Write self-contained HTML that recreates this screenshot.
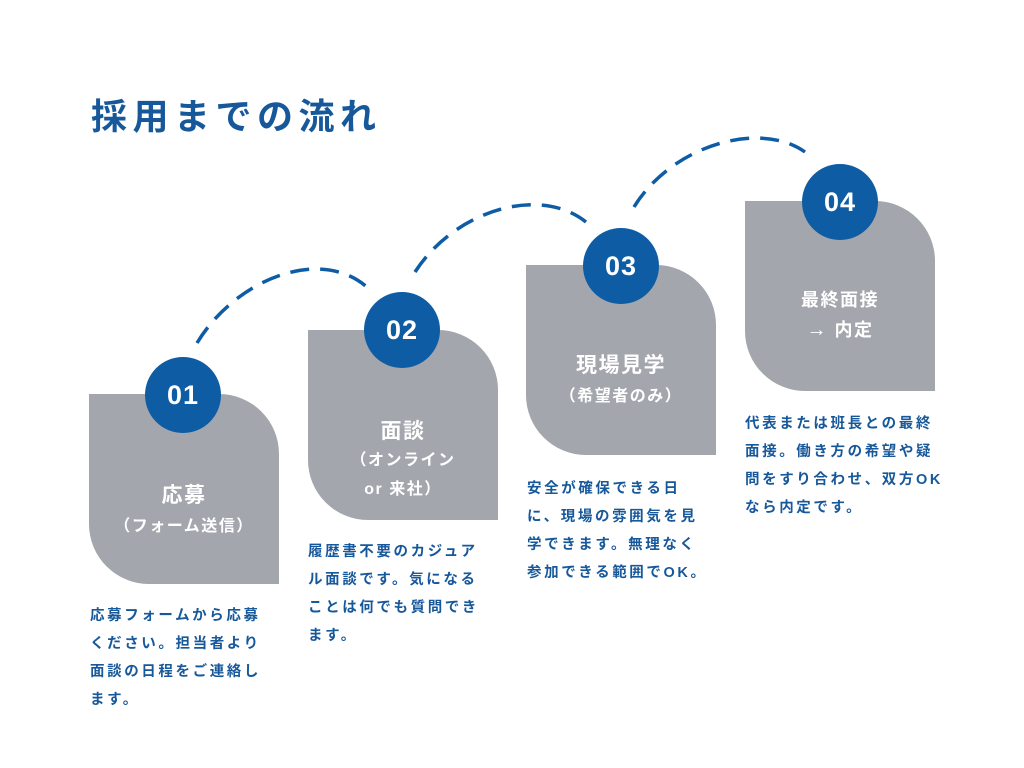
<!DOCTYPE html>
<html><head><meta charset="utf-8"><style>
body{margin:0;width:1024px;height:768px;background:#fff;position:relative;overflow:hidden;font-family:"Liberation Sans","Noto Sans CJK JP",sans-serif;}
.t{position:absolute;left:91px;top:88px;font-size:36px;font-weight:bold;color:#17589a;letter-spacing:5.5px;}
.card{position:absolute;width:190px;height:190px;background:#a3a6ad;border-radius:0 60px 0 60px;}
.c{position:absolute;width:76px;height:76px;border-radius:50%;background:#0e5ca3;color:#fff;font-size:27px;font-weight:bold;text-align:center;line-height:76px;letter-spacing:1px;}
.ct{position:absolute;width:190px;text-align:center;color:#fff;font-weight:bold;letter-spacing:1.5px;}
.d{position:absolute;color:#17589a;font-size:14.5px;font-weight:bold;line-height:28px;letter-spacing:2.6px;white-space:nowrap;}
</style></head><body>
<div class="t">採用までの流れ</div>
<svg width="1024" height="768" style="position:absolute;left:0;top:0">
<g fill="none" stroke="#0e5ca3" stroke-width="3.5" stroke-dasharray="19 11">
<path d="M197,343 C235,280 320,245 368,288"/>
<path d="M415,272 C455,210 540,185 586,222"/>
<path d="M634,207 C672,145 760,120 805,152"/>
</g></svg>
<div class="card" style="left:89px;top:394px"></div>
<div class="card" style="left:308px;top:330px"></div>
<div class="card" style="left:526px;top:265px"></div>
<div class="card" style="left:745px;top:201px"></div>
<div class="c" style="left:145px;top:357px">01</div>
<div class="c" style="left:364px;top:292px">02</div>
<div class="c" style="left:583px;top:228px">03</div>
<div class="c" style="left:802px;top:164px">04</div>
<div class="ct" style="left:89px;top:479px;font-size:21px">応募</div>
<div class="ct" style="left:89px;top:512px;font-size:16px">（フォーム送信）</div>
<div class="ct" style="left:308px;top:415px;font-size:21px">面談</div>
<div class="ct" style="left:308px;top:446px;font-size:16px;line-height:29px">（オンライン<br>or 来社）</div>
<div class="ct" style="left:526px;top:349px;font-size:21px">現場見学</div>
<div class="ct" style="left:526px;top:382px;font-size:16px">（希望者のみ）</div>
<div class="ct" style="left:745px;top:285px;font-size:18px;line-height:30px">最終面接<br><span style="font-size:20px">→</span> 内定</div>
<div class="d" style="left:90px;top:602px">応募フォームから応募<br>ください。担当者より<br>面談の日程をご連絡し<br>ます。</div>
<div class="d" style="left:308px;top:538px">履歴書不要のカジュア<br>ル面談です。気になる<br>ことは何でも質問でき<br>ます。</div>
<div class="d" style="left:527px;top:475px">安全が確保できる日<br>に、現場の雰囲気を見<br>学できます。無理なく<br>参加できる範囲でOK。</div>
<div class="d" style="left:745px;top:410px">代表または班長との最終<br>面接。働き方の希望や疑<br>問をすり合わせ、双方OK<br>なら内定です。</div>
</body></html>
